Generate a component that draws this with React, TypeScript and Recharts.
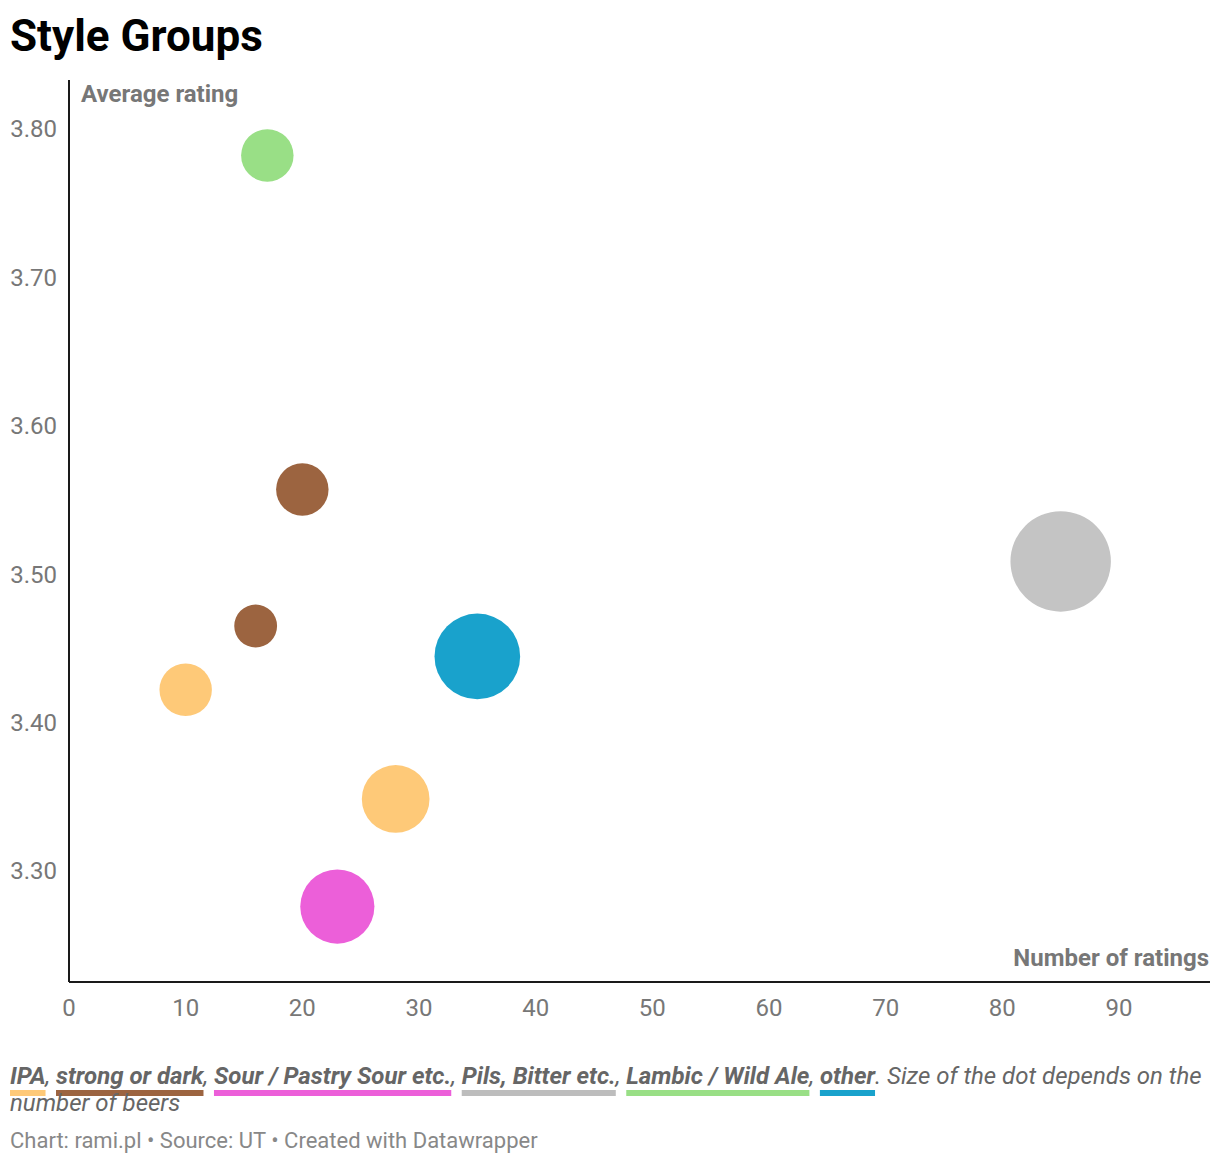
import { ScatterChart, Scatter, XAxis, YAxis, ZAxis, Cell } from 'recharts';

// one entry per dot
const groups = ['Lambic / Wild Ale', 'strong or dark', 'strong or dark', 'IPA', 'other', 'Pils, Bitter etc.', 'IPA', 'Sour / Pastry Sour etc.'];
const ratingsCount = [17, 20, 16, 10, 35, 85, 28, 23];
const avgRating = [3.782, 3.557, 3.465, 3.422, 3.4445, 3.5085, 3.3485, 3.276];
const beers = [3, 3, 2, 3, 8, 11, 5, 6];

const legendGroups = ['IPA', 'strong or dark', 'Sour / Pastry Sour etc.', 'Pils, Bitter etc.', 'Lambic / Wild Ale', 'other'];
const legendColors = ['#fec978', '#9c6440', '#ec5fd9', '#bdbdbd', '#99df86', '#19a2cc'];
const dotColors: Record<string, string> = {
  IPA: '#fec978',
  'strong or dark': '#9c6440',
  'Sour / Pastry Sour etc.': '#ec5fd9',
  'Pils, Bitter etc.': '#c4c4c4',
  'Lambic / Wild Ale': '#99df86',
  other: '#19a2cc',
};

const xTicks = [0, 10, 20, 30, 40, 50, 60, 70, 80, 90];
const yTicks = [3.3, 3.4, 3.5, 3.6, 3.7, 3.8];

const data = groups.map((g, i) => ({
  group: g,
  ratings: ratingsCount[i],
  rating: avgRating[i],
  beers: beers[i],
}));

const tickStyle = { fill: '#777777', fontSize: 24, fontFamily: 'Roboto' };

export default function App() {
  return (
    <div
      style={{
        position: 'absolute',
        left: 0,
        top: 0,
        width: 1220,
        height: 1164,
        background: '#fff',
        fontFamily: 'Roboto, sans-serif',
      }}
    >
      <div
        style={{
          position: 'absolute',
          left: 10,
          top: 10,
          fontSize: 44,
          lineHeight: '52px',
          fontWeight: 700,
          color: '#000',
          whiteSpace: 'nowrap',
        }}
      >
        Style Groups
      </div>

      <div style={{ position: 'absolute', left: 0, top: 0 }}>
        <ScatterChart width={1220} height={1040} margin={{ top: 80, right: 10, bottom: 8, left: 0 }}>
          <XAxis
            type="number"
            dataKey="ratings"
            domain={[0, 97.8]}
            ticks={xTicks}
            allowDataOverflow
            height={50}
            tickLine={false}
            tickSize={0}
            tickMargin={17}
            axisLine={{ stroke: '#1a1a1a', strokeWidth: 2 }}
            tick={tickStyle}
          />
          <YAxis
            type="number"
            dataKey="rating"
            domain={[3.2252, 3.8328]}
            ticks={yTicks}
            allowDataOverflow
            width={69}
            tickLine={false}
            tickSize={0}
            tickMargin={12}
            axisLine={{ stroke: '#1a1a1a', strokeWidth: 2 }}
            tick={tickStyle}
            tickFormatter={(v: number) => v.toFixed(2)}
          />
          <ZAxis type="number" dataKey="beers" domain={[0, 11]} range={[0, 7920]} />
          <Scatter data={data} isAnimationActive={false}>
            {data.map((d, i) => (
              <Cell key={i} fill={dotColors[d.group]} />
            ))}
          </Scatter>
        </ScatterChart>
      </div>

      <div
        style={{
          position: 'absolute',
          left: 81,
          top: 79.5,
          fontSize: 24,
          lineHeight: '28px',
          fontWeight: 700,
          color: '#777777',
          whiteSpace: 'nowrap',
        }}
      >
        Average rating
      </div>
      <div
        style={{
          position: 'absolute',
          right: 11,
          top: 943.5,
          fontSize: 24,
          lineHeight: '28px',
          fontWeight: 700,
          color: '#777777',
          whiteSpace: 'nowrap',
        }}
      >
        Number of ratings
      </div>

      <div
        style={{
          position: 'absolute',
          left: 10,
          top: 1062.5,
          fontSize: 24,
          lineHeight: '27px',
          fontStyle: 'italic',
          color: '#666666',
          whiteSpace: 'nowrap',
        }}
      >
        {legendGroups.map((g, i) => (
          <span key={g}>
            <span
              style={{
                fontWeight: 700,
                textDecorationLine: 'underline',
                textDecorationColor: legendColors[i],
                textDecorationThickness: '6px',
                textUnderlineOffset: '6px',
                textDecorationSkipInk: 'none',
              }}
            >
              {g}
            </span>
            {i < legendGroups.length - 1 ? ', ' : ''}
          </span>
        ))}
        . Size of the dot depends on the
        <br />
        number of beers
      </div>

      <div
        style={{
          position: 'absolute',
          left: 10,
          top: 1127.5,
          fontSize: 22,
          lineHeight: '26px',
          color: '#888888',
          whiteSpace: 'nowrap',
        }}
      >
        Chart: rami.pl • Source: UT • Created with Datawrapper
      </div>
    </div>
  );
}
